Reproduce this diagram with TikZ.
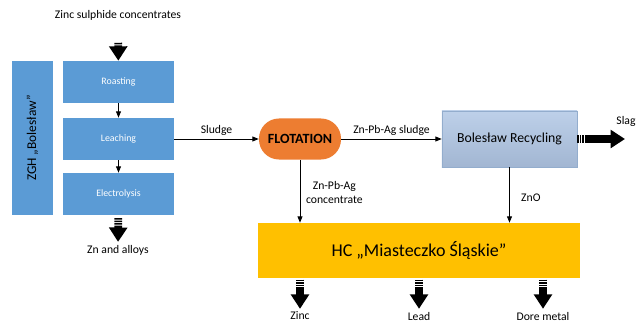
\documentclass[tikz,border=0pt]{standalone}
\usepackage{fontspec}
\setmainfont{Carlito}
\usetikzlibrary{arrows.meta}

\definecolor{zghblue}{HTML}{5B9BD5}
\definecolor{flotorange}{HTML}{ED7D31}
\definecolor{hcyellow}{HTML}{FFC000}
\definecolor{rectop}{HTML}{BDD0E9}
\definecolor{recbot}{HTML}{A2B6D2}
\definecolor{recline}{HTML}{93ADCD}

\begin{document}
\begin{tikzpicture}
  [x=0.025cm,y=-0.025cm,
   every node/.style={font=\fontsize{8.3}{10}\selectfont,inner sep=2pt},
   stage/.style={fill=zghblue,text=white,minimum width=2.775cm,minimum height=1.05cm,
     font=\fontsize{7}{8}\selectfont},
   thin/.style={-{Triangle[width=3.5pt,length=4.5pt]},line width=0.6pt},
   fat/.style={-{Triangle[width=0.44cm,length=0.36cm]},line width=0.19cm,
     dash pattern=on 1.1pt off 0.7pt on 1.1pt off 0.7pt on 1.1pt off 0.7pt on 200pt}]
  \useasboundingbox (0,0) rectangle (637,322);

  % ZGH Boleslaw
  \node (zsc) at (118,15) {Zinc sulphide concentrates};
  \node[fill=zghblue,minimum width=1.025cm,minimum height=3.85cm] (zgh) at (32.5,138) {};
  \node[rotate=90,font=\fontsize{9.5}{11}\selectfont] at (zgh) {ZGH „Bolesław”};
  \node[stage] (roast) at (118.5,82) {Roasting};
  \node[stage] (leach) at (118.5,139) {Leaching};
  \node[stage] (elec) at (118.5,194) {Electrolysis};
  \node (znall) at (118,250) {Zn and alloys};

  % flotation and recycling
  \node[fill=flotorange,rounded corners=0.5cm,minimum width=2.05cm,minimum height=1.025cm,
    font=\fontsize{10}{12}\bfseries] (flot) at (300,139) {FLOTATION};
  \node[top color=rectop,bottom color=recbot,draw=recline,minimum width=3.375cm,
    minimum height=1.4cm,font=\fontsize{9.8}{12}\selectfont] (recyc) at (509.5,139) {Bolesław Recycling};
  \coordinate (slagend) at (625,139);
  \node (slag) at (626,121) {Slag};

  % HC Miasteczko Slaskie
  \node[fill=hcyellow,minimum width=8.05cm,minimum height=1.375cm,
    font=\fontsize{12.8}{15}\selectfont] (hc) at (419,250.5) {HC „Miasteczko Śląskie”};
  \node (zinc) at (300,316) {Zinc};
  \node (lead) at (419,316) {Lead};
  \node (dore) at (543,316) {Dore metal};

  \draw[fat,shorten <=14] (zsc) -- (roast);
  \draw[thin] (roast) -- (leach);
  \draw[thin] (leach) -- (elec);
  \draw[fat,shorten <=2] (elec) -- (znall);
  \draw[thin] (leach) -- node[above] {Sludge} (flot);
  \draw[thin] (flot) -- node[above] {Zn-Pb-Ag sludge} (recyc);
  \draw[fat] (recyc) -- (slagend);
  \draw[thin] (flot.south) -- node[right,align=center,pos=0.52,xshift=2] {Zn-Pb-Ag\\concentrate} (flot.south |- hc.north);
  \draw[thin] (recyc.south) -- node[right,pos=0.55,xshift=6] {ZnO} (recyc.south |- hc.north);
  \foreach \out in {zinc,lead,dore}
    \draw[fat,shorten <=1] (hc.south -| \out.north) -- (\out.north);
\end{tikzpicture}
\end{document}
